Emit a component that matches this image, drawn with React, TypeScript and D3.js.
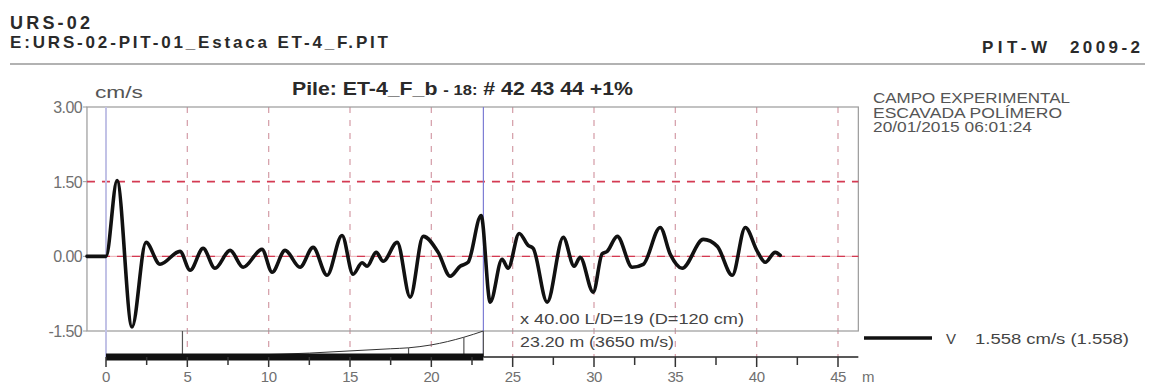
import React from "react";
import * as d3 from "d3";

// Velocity trace (depth in m, velocity in cm/s)
const depthM = [-1.17, 0, 0.68, 1.6, 2.46, 3.32, 4.55, 5.17, 5.97, 6.7, 7.63, 8.43, 9.59, 10.21, 11.01, 11.93, 12.73, 13.59, 14.51, 15.19, 15.74, 16.05, 16.61, 17.04, 17.9, 18.7, 19.5, 20.42, 21.16, 21.77, 22.26, 23.06, 23.62, 24.35, 24.72, 25.4, 25.95, 26.26, 27.12, 28.11, 28.78, 29.15, 29.95, 30.5, 30.81, 31.43, 32.35, 33.03, 34.07, 34.69, 35.42, 36.72, 37.58, 38.5, 39.3, 40.04, 40.53, 41.14, 41.45];
const velocity = [0, 0, 1.52, -1.42, 0.28, -0.16, 0.1, -0.28, 0.16, -0.24, 0.12, -0.22, 0.14, -0.32, 0.12, -0.22, 0.18, -0.38, 0.42, -0.36, -0.13, -0.2, 0.08, -0.1, 0.28, -0.82, 0.4, 0.08, -0.4, -0.2, -0.12, 0.82, -0.92, -0.06, -0.24, 0.46, 0.22, 0.16, -0.92, 0.38, -0.2, -0.02, -0.72, 0.05, 0.1, 0.4, -0.22, -0.16, 0.58, 0.04, -0.24, 0.34, 0.2, -0.38, 0.58, 0.1, -0.12, 0.08, 0.02];

// Amplification / pile profile curve (depth, relative height 0..1)
const profileDepth = [9, 12.5, 15, 17.5, 18.6, 20, 22, 23.2];
const profileHeight = [0, 0.08, 0.17, 0.26, 0.3, 0.42, 0.74, 1.0];
const profileMarks = [4.7, 18.6, 22, 23.2];

const yTicks = [3.0, 1.5, 0.0, -1.5];
const xTickLabels = [0, 5, 10, 15, 20, 25, 30, 35, 40, 45];
const xMinorTicks = [2.5, 7.5, 12.5, 17.5, 22.5, 27.5, 32.5, 37.5, 42.5];
const redLevels = [1.5, 0.0];
const pileLength = 23.2;

const FONT = "'Liberation Sans', Arial, sans-serif";

export default function App() {
  const x = d3.scaleLinear().domain([0, 45]).range([106, 838]);
  const y = d3.scaleLinear().domain([-1.5, 3]).range([331, 107]);
  const yProf = d3.scaleLinear().domain([0, 1]).range([355, 331]);
  const left = x(-1.17);
  const right = x(46.25);
  const top = y(3);
  const bottom = y(-1.5);
  const barY = 357;

  const line = d3
    .line<number>()
    .x((_, i) => x(depthM[i]))
    .y((v) => y(v))
    .curve(d3.curveMonotoneX);

  const profLine = d3
    .line<number>()
    .x((_, i) => x(profileDepth[i]))
    .y((v) => yProf(v))
    .curve(d3.curveMonotoneX);

  const profAt = (m: number) => {
    if (m <= profileDepth[0]) return 0;
    for (let i = 1; i < profileDepth.length; i++) {
      if (m <= profileDepth[i]) {
        const t = (m - profileDepth[i - 1]) / (profileDepth[i] - profileDepth[i - 1]);
        return profileHeight[i - 1] + t * (profileHeight[i] - profileHeight[i - 1]);
      }
    }
    return 1;
  };

  return (
    <svg width={1155} height={386} style={{ position: "absolute", left: 0, top: 0, background: "#fff" }} fontFamily={FONT}>
      {/* header */}
      <text x={10} y={29} fontSize={18} fontWeight="bold" fill="#2a2a2a" textLength={80} lengthAdjust="spacing">URS-02</text>
      <text x={10} y={48} fontSize={17} fontWeight="bold" fill="#2a2a2a" textLength={378} lengthAdjust="spacing">E:URS-02-PIT-01_Estaca ET-4_F.PIT</text>
      <text x={982} y={53} fontSize={17} fontWeight="bold" fill="#2a2a2a" textLength={65} lengthAdjust="spacing">PIT-W</text>
      <text x={1140} y={53} fontSize={17} fontWeight="bold" fill="#2a2a2a" textAnchor="end" textLength={70} lengthAdjust="spacing">2009-2</text>
      <line x1={10} x2={1145} y1={64} y2={64} stroke="#999" strokeWidth={1.5} />

      {/* right info */}
      <text x={873} y={103} fontSize={15} fill="#555" textLength={197} lengthAdjust="spacingAndGlyphs">CAMPO EXPERIMENTAL</text>
      <text x={873} y={118} fontSize={15} fill="#555" textLength={189} lengthAdjust="spacingAndGlyphs">ESCAVADA POLÍMERO</text>
      <text x={873} y={132} fontSize={14} fill="#555" textLength={159} lengthAdjust="spacingAndGlyphs">20/01/2015 06:01:24</text>

      {/* title */}
      <text x={292} y={95} fontSize={18} fontWeight="bold" fill="#2a2a2a" textLength={341} lengthAdjust="spacingAndGlyphs">
        Pile: ET-4_F_b <tspan fontSize={14}>- 18:</tspan> # 42 43 44 +1%
      </text>
      <text x={95} y={98} fontSize={17} fill="#555" textLength={48} lengthAdjust="spacingAndGlyphs">cm/s</text>

      {/* vertical dashed grid */}
      {xTickLabels.slice(1).map((m) => (
        <line key={"g" + m} x1={x(m)} x2={x(m)} y1={top} y2={barY} stroke="#d7a3ad" strokeWidth={1.3} strokeDasharray="6,7" />
      ))}

      {/* frame */}
      <rect x={left} y={top} width={right - left} height={bottom - top} fill="none" stroke="#9a9a9a" strokeWidth={1.2} />

      {/* y ticks */}
      {yTicks.map((t) => (
        <g key={"y" + t}>
          <line x1={left - 4} x2={left} y1={y(t)} y2={y(t)} stroke="#9a9a9a" strokeWidth={1} />
          <text x={82} y={y(t) + 6} fontSize={16} fill="#707070" textAnchor="end" letterSpacing={-0.6}>{t.toFixed(2)}</text>
        </g>
      ))}

      {/* red reference lines */}
      <line x1={left} x2={right} y1={y(0)} y2={y(0)} stroke="#e07c86" strokeWidth={0.8} opacity={0.8} />
      {redLevels.map((v) => (
        <line key={"r" + v} x1={left} x2={right} y1={y(v)} y2={y(v)} stroke="#d43a52" strokeWidth={v === 0 ? 1.4 : 1.8} strokeDasharray="8,7" />
      ))}

      {/* blue markers */}
      <line x1={x(0)} x2={x(0)} y1={top} y2={barY} stroke="#c2c2e6" strokeWidth={2} />
      <line x1={x(pileLength)} x2={x(pileLength)} y1={top} y2={barY} stroke="#7c7cd4" strokeWidth={1.2} />

      {/* signal */}
      <path d={line(velocity) || ""} fill="none" stroke="#111" strokeWidth={3.6} strokeLinejoin="round" strokeLinecap="round" />

      {/* bottom annotations */}
      <text x={520} y={324} fontSize={14} fill="#444" textLength={224} lengthAdjust="spacingAndGlyphs">x 40.00  L/D=19 (D=120 cm)</text>
      <text x={520} y={347} fontSize={14} fill="#444" textLength={154} lengthAdjust="spacingAndGlyphs">23.20 m (3650 m/s)</text>

      {/* pile profile */}
      <path d={profLine(profileHeight) || ""} fill="none" stroke="#333" strokeWidth={1} />
      {profileMarks.map((m) => (
        <line key={"pm" + m} x1={x(m)} x2={x(m)} y1={m < 9 ? bottom : yProf(profAt(m))} y2={barY} stroke="#555" strokeWidth={1.2} />
      ))}
      <line x1={x(pileLength)} x2={right} y1={barY} y2={barY} stroke="#222" strokeWidth={1.5} />
      <rect x={x(0)} y={barY - 3.5} width={x(pileLength) - x(0)} height={7} fill="#111" />

      {/* x ticks */}
      {xTickLabels.map((m) => (
        <g key={"x" + m}>
          <line x1={x(m)} x2={x(m)} y1={barY} y2={barY + 10} stroke="#333" strokeWidth={1.5} />
          <text x={x(m)} y={382} fontSize={15} fill="#707070" textAnchor="middle" letterSpacing={-0.5}>{m}</text>
        </g>
      ))}
      {xMinorTicks.map((m) => (
        <line key={"xm" + m} x1={x(m)} x2={x(m)} y1={barY} y2={barY + 8} stroke="#333" strokeWidth={1.5} />
      ))}
      <text x={862} y={382} fontSize={15} fill="#707070">m</text>

      {/* legend */}
      <line x1={864} x2={932} y1={338} y2={338} stroke="#111" strokeWidth={3.6} />
      <text x={946} y={344} fontSize={15} fill="#444">V</text>
      <text x={975} y={344} fontSize={14} fill="#444" textLength={154} lengthAdjust="spacingAndGlyphs">1.558 cm/s  (1.558)</text>
    </svg>
  );
}
